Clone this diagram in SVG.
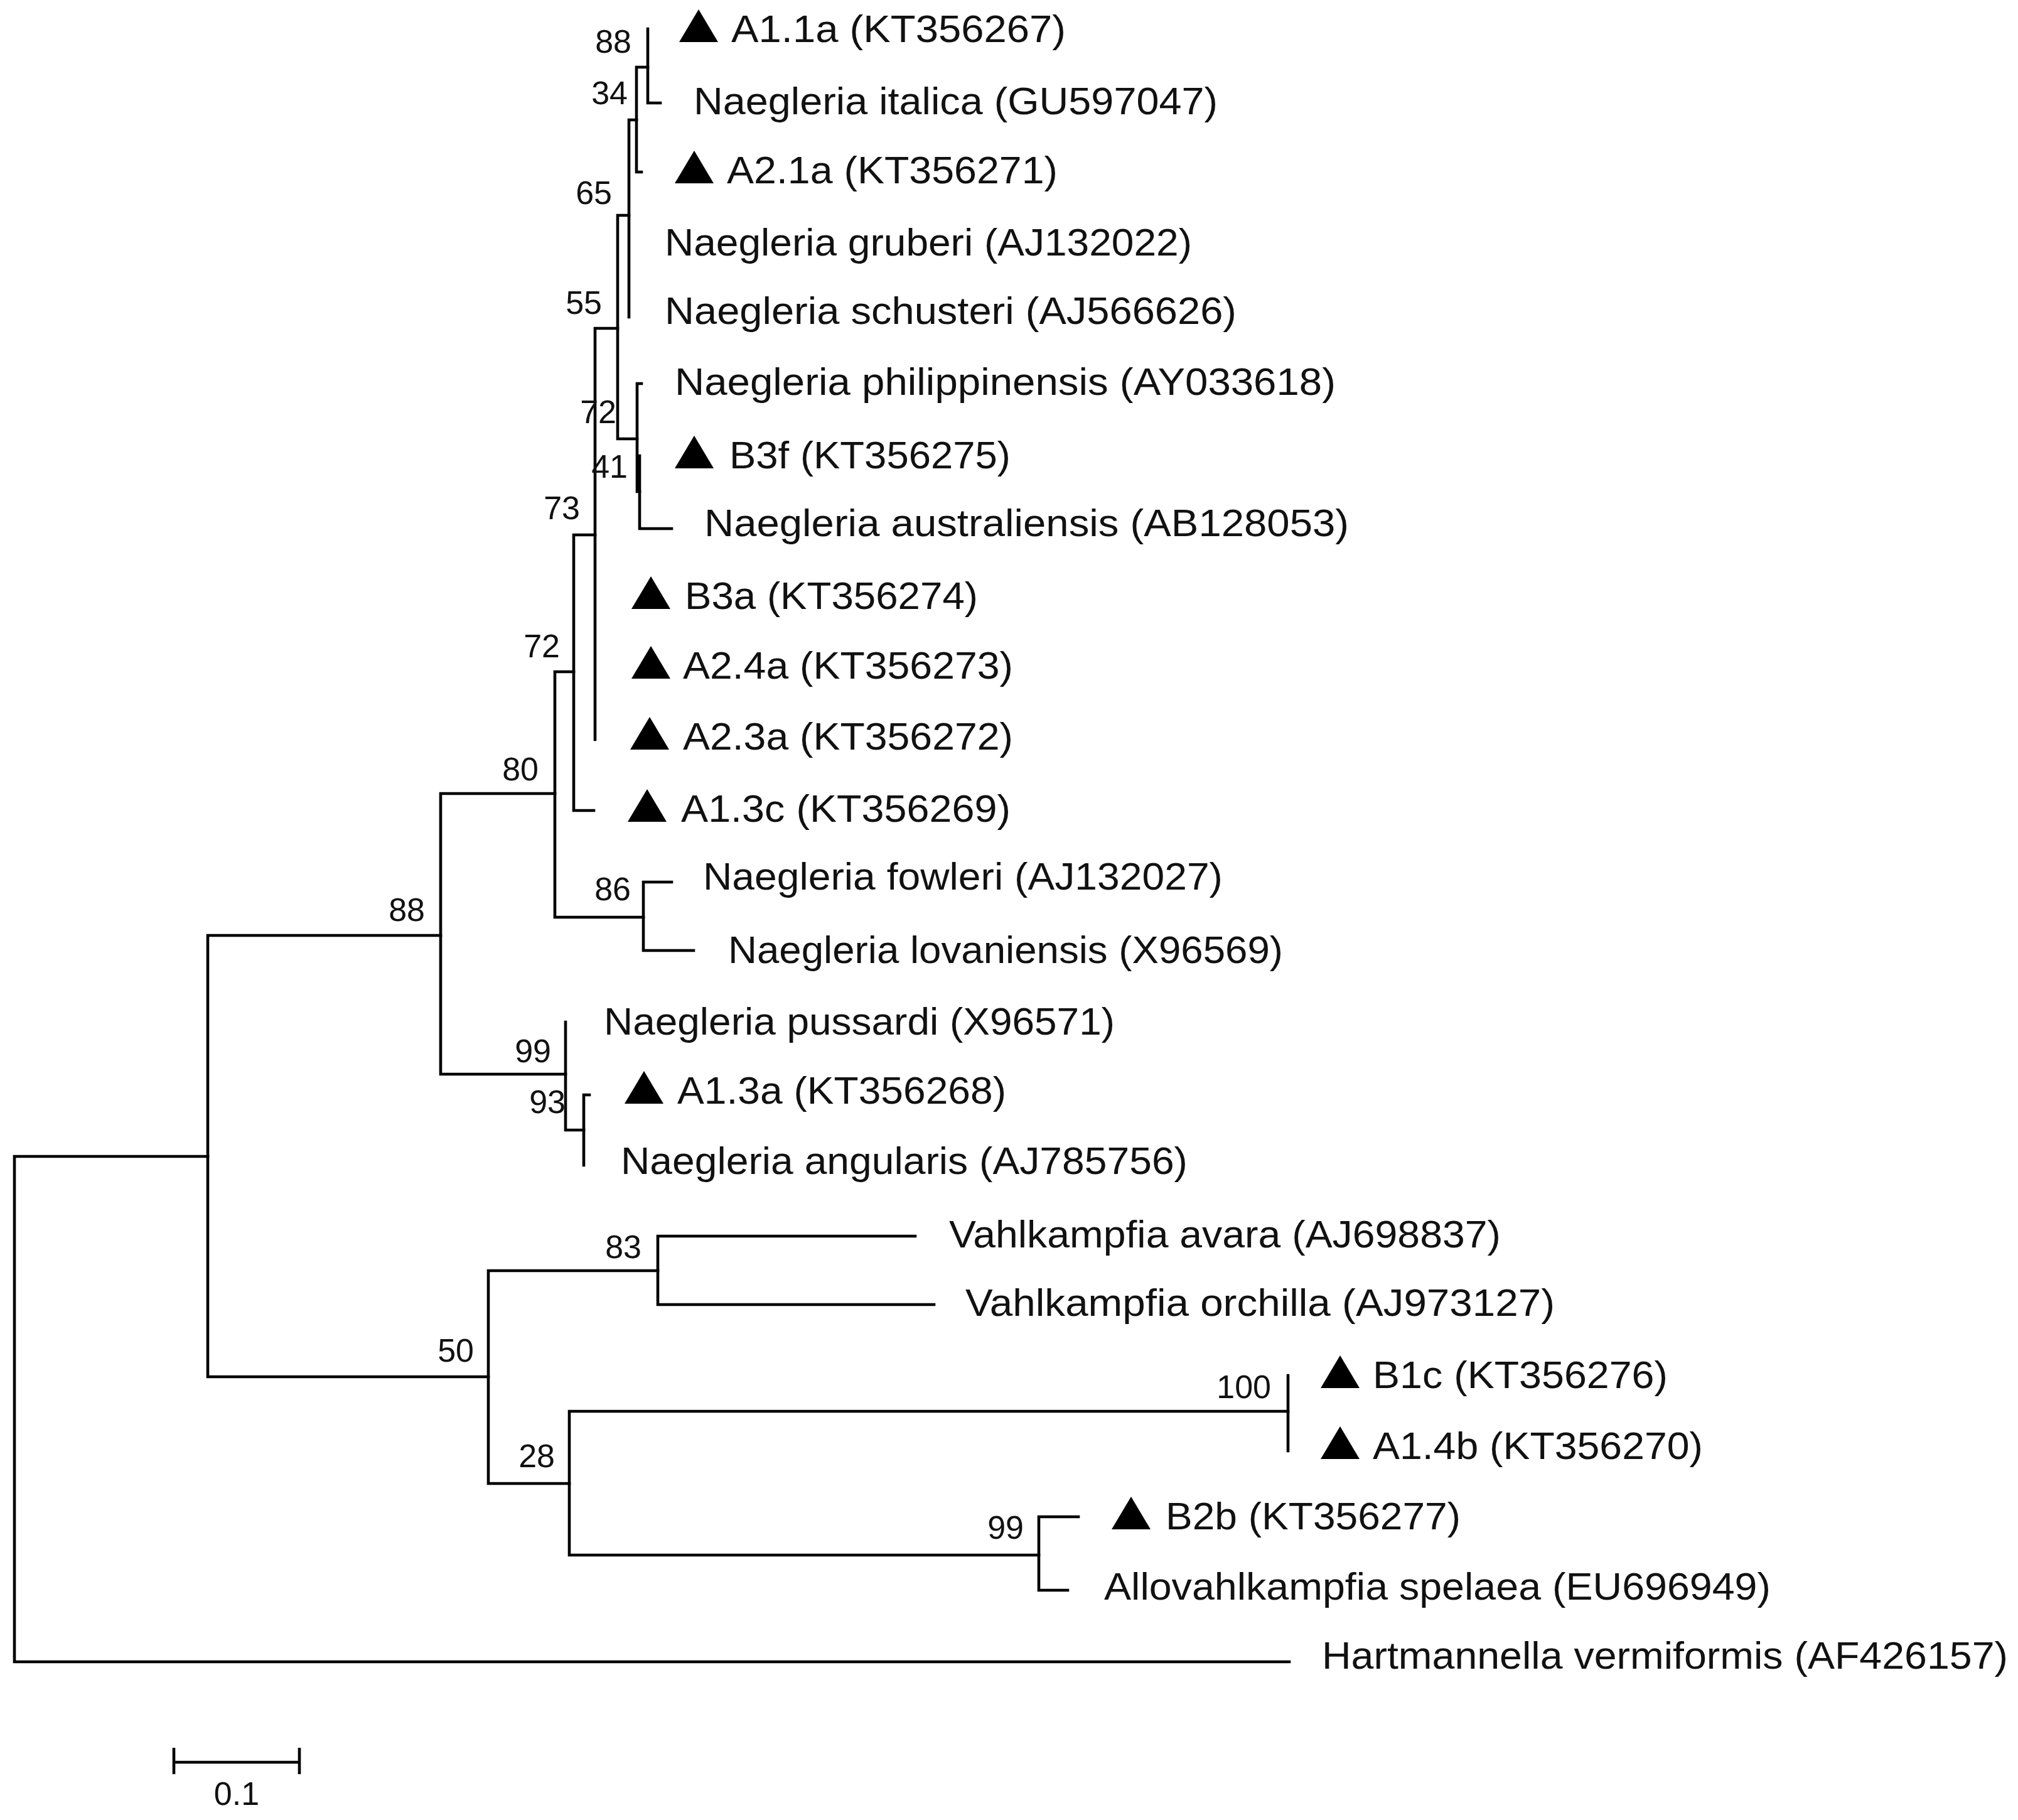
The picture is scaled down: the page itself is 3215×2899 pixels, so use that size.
<svg xmlns="http://www.w3.org/2000/svg" xmlns:xlink="http://www.w3.org/1999/xlink" width="3215" height="2899" viewBox="0 0 3215 2899">
<style>
.br{fill:none;stroke:#000;stroke-width:4.6;stroke-linecap:square}
.lf{font-family:"Liberation Sans",Arial,sans-serif;font-size:62px;fill:#111}
.bs{font-family:"Liberation Sans",Arial,sans-serif;font-size:52px;fill:#111;text-anchor:end}
.tri{fill:#000}
</style>
<defs>
<path id="tri" class="tri" d="M0,0 L62,0 L31,-52 Z"/>
</defs>
<rect width="3215" height="2899" fill="#fff"/>
<g id="connectors">
<path class="br" d="M23,1842 V2647 M23,1842 H331 M23,2647 H2054"/>
<path class="br" d="M331,1490 V2193 M331,1490 H702 M331,2193 H778"/>
<path class="br" d="M702,1264 V1711 M702,1264 H884 M702,1711 H901"/>
<path class="br" d="M884,1070 V1461 M884,1070 H914 M884,1461 H1025"/>
<path class="br" d="M1025,1405 V1514 M1025,1405 H1070 M1025,1514 H1105"/>
<path class="br" d="M914,852 V1291 M914,852 H948 M914,1291 H946"/>
<path class="br" d="M948,523 V1178 M948,523 H984"/>
<path class="br" d="M984,343 V699 M984,343 H1002 M984,699 H1015"/>
<path class="br" d="M1002,191 V505 M1002,191 H1014"/>
<path class="br" d="M1014,107 V274 M1014,107 H1032 M1014,274 H1022"/>
<path class="br" d="M1032,46 V164 M1032,164 H1052"/>
<path class="br" d="M1015,611 V783 M1015,611 H1022 M1015,783 H1019"/>
<path class="br" d="M1019,726 V842 M1019,842 H1070"/>
<path class="br" d="M901,1628 V1800 M901,1800 H930"/>
<path class="br" d="M930,1744 V1856 M930,1744 H939"/>
<path class="br" d="M778,2024 V2363 M778,2024 H1048 M778,2363 H907"/>
<path class="br" d="M1048,1969 V2078 M1048,1969 H1458 M1048,2078 H1488"/>
<path class="br" d="M907,2248 V2477 M907,2248 H2052 M907,2477 H1655"/>
<path class="br" d="M2052,2191 V2311"/>
<path class="br" d="M1655,2416 V2533 M1655,2416 H1718 M1655,2533 H1701"/>
</g>
<g id="bootstrap">
<text class="bs" x="1006" y="84">88</text>
<text class="bs" x="1000" y="166">34</text>
<text class="bs" x="975" y="325">65</text>
<text class="bs" x="959" y="500">55</text>
<text class="bs" x="982" y="674">72</text>
<text class="bs" x="1000" y="761">41</text>
<text class="bs" x="924" y="827">73</text>
<text class="bs" x="892" y="1047">72</text>
<text class="bs" x="858" y="1243">80</text>
<text class="bs" x="1005" y="1434">86</text>
<text class="bs" x="677" y="1467">88</text>
<text class="bs" x="878" y="1692">99</text>
<text class="bs" x="901" y="1773">93</text>
<text class="bs" x="1022" y="2004">83</text>
<text class="bs" x="755" y="2169">50</text>
<text class="bs" x="884" y="2337">28</text>
<text class="bs" x="2025" y="2227">100</text>
<text class="bs" x="1631" y="2451">99</text>
</g>
<g id="leaf-A1.1a"><use xlink:href="#tri" x="1082" y="67"/><text class="lf" x="1165" y="67" textLength="533" lengthAdjust="spacingAndGlyphs">A1.1a (KT356267)</text></g>
<g id="leaf-italica"><text class="lf" x="1105" y="182" textLength="835" lengthAdjust="spacingAndGlyphs">Naegleria italica (GU597047)</text></g>
<g id="leaf-A2.1a"><use xlink:href="#tri" x="1075" y="292"/><text class="lf" x="1158" y="292" textLength="527" lengthAdjust="spacingAndGlyphs">A2.1a (KT356271)</text></g>
<g id="leaf-gruberi"><text class="lf" x="1059" y="407" textLength="840" lengthAdjust="spacingAndGlyphs">Naegleria gruberi (AJ132022)</text></g>
<g id="leaf-schusteri"><text class="lf" x="1059" y="516" textLength="911" lengthAdjust="spacingAndGlyphs">Naegleria schusteri (AJ566626)</text></g>
<g id="leaf-philippinensis"><text class="lf" x="1075" y="629" textLength="1053" lengthAdjust="spacingAndGlyphs">Naegleria philippinensis (AY033618)</text></g>
<g id="leaf-B3f"><use xlink:href="#tri" x="1075" y="746"/><text class="lf" x="1162" y="746" textLength="448" lengthAdjust="spacingAndGlyphs">B3f (KT356275)</text></g>
<g id="leaf-australiensis"><text class="lf" x="1122" y="854" textLength="1027" lengthAdjust="spacingAndGlyphs">Naegleria australiensis (AB128053)</text></g>
<g id="leaf-B3a"><use xlink:href="#tri" x="1006" y="970"/><text class="lf" x="1091" y="970" textLength="467" lengthAdjust="spacingAndGlyphs">B3a (KT356274)</text></g>
<g id="leaf-A2.4a"><use xlink:href="#tri" x="1006" y="1081"/><text class="lf" x="1088" y="1081" textLength="526" lengthAdjust="spacingAndGlyphs">A2.4a (KT356273)</text></g>
<g id="leaf-A2.3a"><use xlink:href="#tri" x="1004" y="1194"/><text class="lf" x="1088" y="1194" textLength="526" lengthAdjust="spacingAndGlyphs">A2.3a (KT356272)</text></g>
<g id="leaf-A1.3c"><use xlink:href="#tri" x="1000" y="1309"/><text class="lf" x="1085" y="1309" textLength="525" lengthAdjust="spacingAndGlyphs">A1.3c (KT356269)</text></g>
<g id="leaf-fowleri"><text class="lf" x="1120" y="1417" textLength="828" lengthAdjust="spacingAndGlyphs">Naegleria fowleri (AJ132027)</text></g>
<g id="leaf-lovaniensis"><text class="lf" x="1160" y="1534" textLength="884" lengthAdjust="spacingAndGlyphs">Naegleria lovaniensis (X96569)</text></g>
<g id="leaf-pussardi"><text class="lf" x="962" y="1648" textLength="814" lengthAdjust="spacingAndGlyphs">Naegleria pussardi (X96571)</text></g>
<g id="leaf-A1.3a"><use xlink:href="#tri" x="995" y="1758"/><text class="lf" x="1079" y="1758" textLength="524" lengthAdjust="spacingAndGlyphs">A1.3a (KT356268)</text></g>
<g id="leaf-angularis"><text class="lf" x="989" y="1870" textLength="903" lengthAdjust="spacingAndGlyphs">Naegleria angularis (AJ785756)</text></g>
<g id="leaf-avara"><text class="lf" x="1512" y="1987" textLength="879" lengthAdjust="spacingAndGlyphs">Vahlkampfia avara (AJ698837)</text></g>
<g id="leaf-orchilla"><text class="lf" x="1538" y="2096" textLength="939" lengthAdjust="spacingAndGlyphs">Vahlkampfia orchilla (AJ973127)</text></g>
<g id="leaf-B1c"><use xlink:href="#tri" x="2104" y="2211"/><text class="lf" x="2187" y="2211" textLength="470" lengthAdjust="spacingAndGlyphs">B1c (KT356276)</text></g>
<g id="leaf-A1.4b"><use xlink:href="#tri" x="2104" y="2324"/><text class="lf" x="2187" y="2324" textLength="526" lengthAdjust="spacingAndGlyphs">A1.4b (KT356270)</text></g>
<g id="leaf-B2b"><use xlink:href="#tri" x="1771" y="2436"/><text class="lf" x="1857" y="2436" textLength="470" lengthAdjust="spacingAndGlyphs">B2b (KT356277)</text></g>
<g id="leaf-spelaea"><text class="lf" x="1759" y="2548" textLength="1062" lengthAdjust="spacingAndGlyphs">Allovahlkampfia spelaea (EU696949)</text></g>
<g id="leaf-hartmannella"><text class="lf" x="2106" y="2658" textLength="1093" lengthAdjust="spacingAndGlyphs">Hartmannella vermiformis (AF426157)</text></g>
<g id="scale-bar">
<path class="br" d="M277,2807 H477 M277,2784 V2826 M477,2784 V2826" style="stroke-linecap:butt"/>
<text class="bs" x="377" y="2875" style="text-anchor:middle">0.1</text>
</g>
</svg>
